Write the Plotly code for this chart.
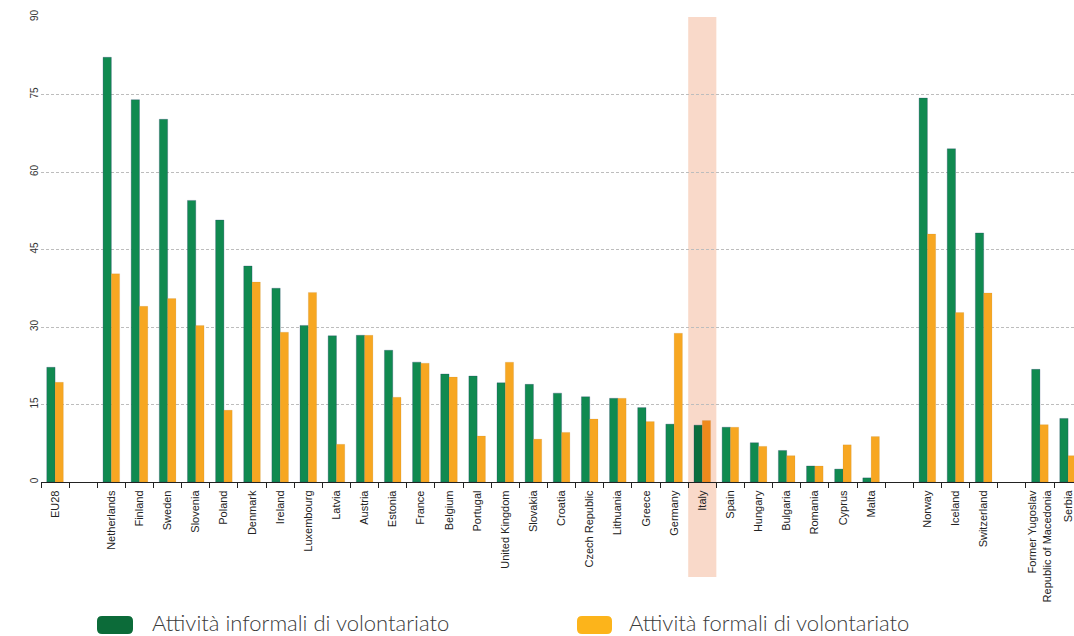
import plotly.graph_objects as go

categories = ["EU28", " ", "Netherlands", "Finland", "Sweden", "Slovenia", "Poland",
              "Denmark", "Ireland", "Luxembourg", "Latvia", "Austria", "Estonia",
              "France", "Belgium", "Portugal", "United Kingdom", "Slovakia", "Croatia",
              "Czech Republic", "Lithuania", "Greece", "Germany", "Italy", "Spain",
              "Hungary", "Bulgaria", "Romania", "Cyprus", "Malta", "  ", "Norway",
              "Iceland", "Switzerland", "   ",
              "Former Yugoslav<br>Republic of Macedonia", "Serbia"]

informal = [22.2, None, 82.2, 74.0, 70.2, 54.5, 50.7, 41.8, 37.5, 30.3, 28.3, 28.4,
            25.5, 23.2, 20.9, 20.5, 19.2, 18.9, 17.2, 16.5, 16.2, 14.4, 11.2, 11.0,
            10.6, 7.6, 6.1, 3.1, 2.5, 0.8, None, 74.3, 64.5, 48.2, None, 21.8, 12.3]

formal = [19.3, None, 40.3, 34.0, 35.5, 30.3, 13.9, 38.7, 29.0, 36.7, 7.3, 28.4,
          16.4, 23.0, 20.3, 8.9, 23.2, 8.3, 9.6, 12.2, 16.2, 11.7, 28.8, 11.9,
          10.6, 6.9, 5.1, 3.1, 7.2, 8.8, None, 48.0, 32.8, 36.6, None, 11.1, 5.1]

series_names = ["Attività informali di volontariato", "Attività formali di volontariato"]
y_ticks = [0, 15, 30, 45, 60, 75, 90]
highlight = "Italy"

GREEN, GREEN_HL, GREEN_LEG = "#108a50", "#0b6d3c", "#0c6b39"
ORANGE, ORANGE_HL, ORANGE_LEG = "#f7a722", "#ef8a1c", "#fcb41b"

W, H = 1074, 636
ML, MR, MT, MB = 41, 0, 17, 154
PW, PH = W - ML - MR, H - MT - MB

green_cols = [GREEN_HL if c == highlight else GREEN for c in categories]
orange_cols = [ORANGE_HL if c == highlight else ORANGE for c in categories]

fig = go.Figure()
fig.add_trace(go.Bar(x=categories, y=informal, name=series_names[0],
                     marker=dict(color=green_cols, line=dict(width=0.5, color="rgba(40,60,110,0.55)")),
                     showlegend=False))
fig.add_trace(go.Bar(x=categories, y=formal, name=series_names[1],
                     marker=dict(color=orange_cols, line=dict(width=0.3, color="rgba(150,110,60,0.4)")),
                     showlegend=False))

def px_x(px):
    return (px - ML) / PW

def px_y(py):
    return (H - MB - py) / PH

# highlight band for Italy
idx = categories.index(highlight)
fig.add_shape(type="rect", xref="x", yref="paper", x0=idx - 0.5, x1=idx + 0.5,
              y0=px_y(577), y1=1, fillcolor="#f9d9c9", line=dict(width=0), layer="below")

def rounded_rect(x0, y0, x1, y1, r):
    X = px_x
    Y = px_y
    return (f"M {X(x0 + r)},{Y(y0)} L {X(x1 - r)},{Y(y0)} Q {X(x1)},{Y(y0)} {X(x1)},{Y(y0 + r)} "
            f"L {X(x1)},{Y(y1 - r)} Q {X(x1)},{Y(y1)} {X(x1 - r)},{Y(y1)} "
            f"L {X(x0 + r)},{Y(y1)} Q {X(x0)},{Y(y1)} {X(x0)},{Y(y1 - r)} "
            f"L {X(x0)},{Y(y0 + r)} Q {X(x0)},{Y(y0)} {X(x0 + r)},{Y(y0)} Z")

legend_items = [(97, 133, 150, GREEN_LEG, series_names[0]),
                (577, 612, 627, ORANGE_LEG, series_names[1])]
for x0, x1, tx, col, name in legend_items:
    fig.add_shape(type="path", xref="paper", yref="paper",
                  path=rounded_rect(x0, 616, x1, 634, 5),
                  fillcolor=col, line=dict(width=0))
    fig.add_annotation(xref="paper", yref="paper", x=px_x(tx), y=px_y(622),
                       xanchor="left", yanchor="middle", showarrow=False, text=name,
                       font=dict(family="Lato", size=22, color="#3a3a3a", weight=300))

fig.update_layout(
    width=W, height=H,
    margin=dict(l=ML, r=MR, t=MT, b=MB, pad=0),
    paper_bgcolor="white", plot_bgcolor="white",
    barmode="group", bargap=0.41, bargroupgap=0,
    font=dict(family="Liberation Sans, Arial", color="#222"),
)
fig.update_xaxes(
    type="category", categoryorder="array", categoryarray=categories,
    range=[-0.5, len(categories) - 0.5 - 0.29],
    showline=True, linecolor="#222", linewidth=1.2,
    ticks="outside", tickson="boundaries", ticklen=5, tickcolor="#222", tickwidth=1.2,
    tickangle=-90, tickfont=dict(size=11, color="#222"), ticklabelstandoff=3,
    showgrid=False, fixedrange=True,
)
fig.update_yaxes(
    range=[0, 90], tickvals=y_ticks, ticktext=[str(v) for v in y_ticks],
    showgrid=True, gridcolor="#bdbdbd", gridwidth=1, griddash="3px,2px",
    zeroline=False, showline=False, ticks="",
    tickangle=-90, tickfont=dict(size=10, color="#333"),
)

fig.write_html("out.html")
